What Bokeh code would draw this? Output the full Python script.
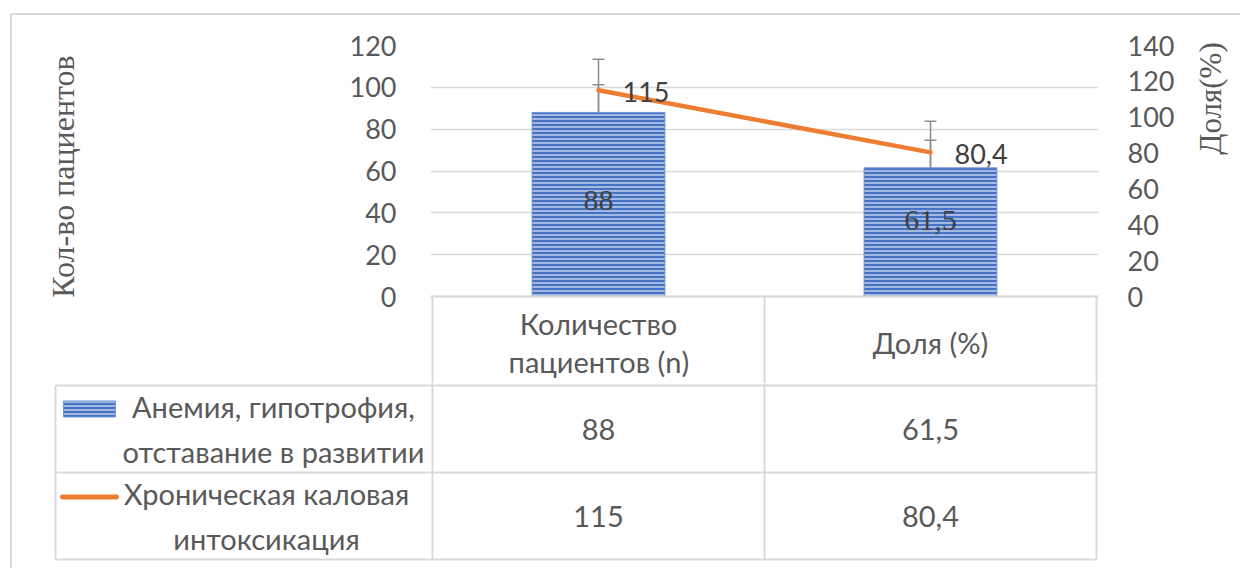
from math import pi

from bokeh.core.properties import value
from bokeh.embed import file_html
from bokeh.layouts import column, row
from bokeh.models import (ColumnDataSource, FactorRange, FixedTicker, InlineStyleSheet,
                          LinearAxis, Range1d, Span, TeeHead, Whisker)
from bokeh.plotting import figure
from bokeh.resources import INLINE

# ---- data -------------------------------------------------------------
categories = ["Количество\nпациентов (n)", "Доля (%)"]
series_names = ["Анемия, гипотрофия,\nотставание в развитии",
                "Хроническая каловая\nинтоксикация"]
anemia = [88, 61.5]
intoxication = [115, 80.4]
anemia_se = [13.25, 13.25]
intoxication_se = [17.3, 17.3]
left_ticks = [0, 20, 40, 60, 80, 100, 120]
right_ticks = [0, 20, 40, 60, 80, 100, 120, 140]
LEFT_MAX, RIGHT_MAX = 120, 140
left_title = "Кол-во пациентов"
right_title = "Доля(%)"


def fmt(v):
    return f"{v:g}".replace(".", ",")


# ---- layout / style ---------------------------------------------------
W, H = 1240, 568
CHART_H = 383                     # chart + table header; table rows below
LEFT_W, SIDE_W = 100, 48          # strips holding the two axis titles
FRAME_L, FRAME_R, FRAME_T, ZERO_Y = 432, 1096, 45, 296
HEADER_B, ROW1_B, ROW2_B = 385, 472, 559
LEG_L = 55
EDGE = 2                          # frame reaches this far past the outer column rules

BLUE = "#4472C4"
ORANGE = "#ED7D31"
LINEC = "#d9d9d9"
TXT = "#595959"
DARK = "#404040"
ERRC = "#8c8c8c"
SANS = "Lato"
SERIF = "Liberation Serif"


def bare(fig):
    fig.frame_align = False
    fig.axis.visible = False
    fig.grid.visible = False
    fig.outline_line_color = None


px_per_left = (ZERO_Y - FRAME_T) / LEFT_MAX
px_per_right = (ZERO_Y - FRAME_T) / RIGHT_MAX
left_start = -(CHART_H - ZERO_Y) / px_per_left
right_start = -(CHART_H - ZERO_Y) / px_per_right
cat_pad = EDGE / ((FRAME_R - FRAME_L) / len(categories))

# ---- chart ------------------------------------------------------------
P_W = W - LEFT_W - SIDE_W
p = figure(width=P_W, height=CHART_H,
           x_range=FactorRange(*categories, range_padding=cat_pad,
                               range_padding_units="absolute"),
           y_range=Range1d(left_start, LEFT_MAX),
           output_backend="svg", toolbar_location=None,
           min_border_left=FRAME_L - EDGE - LEFT_W,
           min_border_right=W - SIDE_W - FRAME_R - EDGE,
           min_border_top=FRAME_T, min_border_bottom=0)
p.frame_align = False
p.extra_y_ranges = {"pct": Range1d(right_start, RIGHT_MAX),
                    "page": Range1d(CHART_H, FRAME_T)}
p.outline_line_color = None
p.xaxis.visible = False
p.xgrid.visible = False
p.ygrid.ticker = FixedTicker(ticks=left_ticks)
p.ygrid.grid_line_color = LINEC
p.ygrid.grid_line_width = 1.5

ly = p.yaxis[0]
ly.ticker = FixedTicker(ticks=left_ticks)
ly.axis_line_color = None
ly.major_tick_line_color = None
ly.minor_tick_line_color = None
ly.major_label_standoff = 28
ly.major_label_text_font = SANS
ly.major_label_text_font_size = "27px"
ly.major_label_text_color = TXT

ry = LinearAxis(y_range_name="pct", ticker=FixedTicker(ticks=right_ticks))
ry.axis_line_color = None
ry.major_tick_line_color = None
ry.minor_tick_line_color = None
ry.major_label_standoff = 23
ry.major_label_text_font = SANS
ry.major_label_text_font_size = "27px"
ry.major_label_text_color = TXT
p.add_layout(ry, "right")

p.add_layout(Span(location=0, dimension="width", line_color=LINEC, line_width=2))

bars = ColumnDataSource(dict(
    x=categories, top=anemia,
    lo=[v - e for v, e in zip(anemia, anemia_se)],
    hi=[v + e for v, e in zip(anemia, anemia_se)],
    ly=[v / 2 for v in anemia], label=[fmt(v) for v in anemia],
    dy=[-4, -12],
))
p.vbar(x="x", top="top", width=0.4, source=bars,
       fill_color=BLUE, line_color="#6f95d8", line_width=1,
       hatch_pattern="horizontal_line", hatch_color="white",
       hatch_alpha=0.85, hatch_scale=4, hatch_weight=1.2)

line = ColumnDataSource(dict(
    x=categories, y=intoxication,
    lo=[v - e for v, e in zip(intoxication, intoxication_se)],
    hi=[v + e for v, e in zip(intoxication, intoxication_se)],
    label=[fmt(v) for v in intoxication],
))
p.line(x="x", y="y", source=line, y_range_name="pct",
       line_color=ORANGE, line_width=4.5, line_cap="round")


def whisker(src, **kw):
    head = dict(size=12, line_color=ERRC, line_width=1.5)
    return Whisker(base="x", lower="lo", upper="hi", source=src,
                   line_color=ERRC, line_width=1.5,
                   upper_head=TeeHead(**head), lower_head=TeeHead(**head), **kw)


p.add_layout(whisker(bars))
p.add_layout(whisker(line, y_range_name="pct"))

p.text(x="x", y="ly", text="label", source=bars, y_offset="dy",
       text_align="center", text_baseline="middle",
       text_font=value(SERIF), text_font_size="30px", text_color=DARK)
p.text(x="x", y="y", text="label", source=line, y_range_name="pct",
       x_offset=24, y_offset=2,
       text_align="left", text_baseline="middle",
       text_font=value(SANS), text_font_size="27px", text_color=DARK)

# table header under the plot: column rules and category names
n_cat = len(categories)
p.segment(x0=list(range(n_cat + 1)), y0=[ZERO_Y] * (n_cat + 1),
          x1=list(range(n_cat + 1)), y1=[CHART_H] * (n_cat + 1),
          y_range_name="page", line_color=LINEC, line_width=2)

head_y = (ZERO_Y + HEADER_B) / 2 + 1
LINE_STEP = 38
hx, hy, ht = [], [], []
for name in categories:
    parts = name.split("\n")
    for i, part in enumerate(parts):
        hx.append(name)
        hy.append(head_y + (i - (len(parts) - 1) / 2) * LINE_STEP)
        ht.append(part)
p.text(x=hx, y=hy, text=ht, y_range_name="page",
       text_align="center", text_baseline="middle",
       text_font=value(SANS), text_font_size="29px", text_color=TXT)

# ---- axis-title strips -----------------------------------------------
left = figure(width=LEFT_W, height=CHART_H,
              x_range=Range1d(0, LEFT_W), y_range=Range1d(CHART_H, 0),
              output_backend="svg", toolbar_location=None, min_border=0)
bare(left)
left.text(x=[62], y=[176], text=[left_title], angle=pi / 2,
          text_align="center", text_baseline="middle",
          text_font=value(SERIF), text_font_size="32px", text_color=TXT)

side = figure(width=SIDE_W, height=CHART_H,
              x_range=Range1d(W - SIDE_W, W), y_range=Range1d(CHART_H, 0),
              output_backend="svg", toolbar_location=None, min_border=0)
bare(side)
side.text(x=[1210], y=[98], text=[right_title], angle=pi / 2,
          text_align="center", text_baseline="middle",
          text_font=value(SERIF), text_font_size="31px", text_color=TXT)

# ---- table rows with legend keys ---------------------------------------
t = figure(width=W, height=H - CHART_H,
           x_range=Range1d(0, W), y_range=Range1d(H, CHART_H),
           output_backend="svg", toolbar_location=None, min_border=0)
bare(t)

col_mid = (FRAME_L + FRAME_R) / 2
col_x = [(FRAME_L + col_mid) / 2, (col_mid + FRAME_R) / 2]
row_y = [(HEADER_B + ROW1_B) / 2, (ROW1_B + ROW2_B) / 2]

t.segment(x0=[FRAME_L, col_mid, FRAME_R, LEG_L, LEG_L, LEG_L, LEG_L],
          y0=[CHART_H, CHART_H, CHART_H, HEADER_B, HEADER_B, ROW1_B, ROW2_B],
          x1=[FRAME_L, col_mid, FRAME_R, LEG_L, FRAME_R, FRAME_R, FRAME_R],
          y1=[ROW2_B, ROW2_B, ROW2_B, ROW2_B, HEADER_B, ROW1_B, ROW2_B],
          line_color=LINEC, line_width=2)

cells = ColumnDataSource(dict(
    x=col_x * 2,
    y=[row_y[0]] * 2 + [row_y[1]] * 2,
    text=[fmt(v) for v in anemia] + [fmt(v) for v in intoxication],
))
t.text(x="x", y="y", text="text", source=cells,
       text_align="center", text_baseline="middle",
       text_font=value(SANS), text_font_size="29px", text_color=TXT)

t.text(x=[273, 266], y=row_y, text=series_names,
       text_align="center", text_baseline="middle", text_line_height=1.3,
       text_font=value(SANS), text_font_size="29px", text_color=TXT)

# legend keys
t.rect(x=[89], y=[row_y[0] - 20], width=52, height=16,
       fill_color=BLUE, line_color="#6f95d8", line_width=1,
       hatch_pattern="horizontal_line", hatch_color="white",
       hatch_alpha=0.85, hatch_scale=4, hatch_weight=1.2)
t.segment(x0=[62], y0=[row_y[1] - 19], x1=[116], y1=[row_y[1] - 19],
          line_color=ORANGE, line_width=5, line_cap="round")

# light border of the chart area (left and top edges)
area_border = InlineStyleSheet(css="""
:host { position: relative; }
:host::after {
  content: ""; position: absolute; left: 10px; top: 13px; right: 0; bottom: 0;
  border-left: 2px solid #d9d9d9; border-top: 2px solid #d9d9d9;
  pointer-events: none;
}
""")

layout = column(row(left, p, side, spacing=0), t, spacing=0, stylesheets=[area_border])
open("out.html", "w").write(file_html(layout, INLINE))
